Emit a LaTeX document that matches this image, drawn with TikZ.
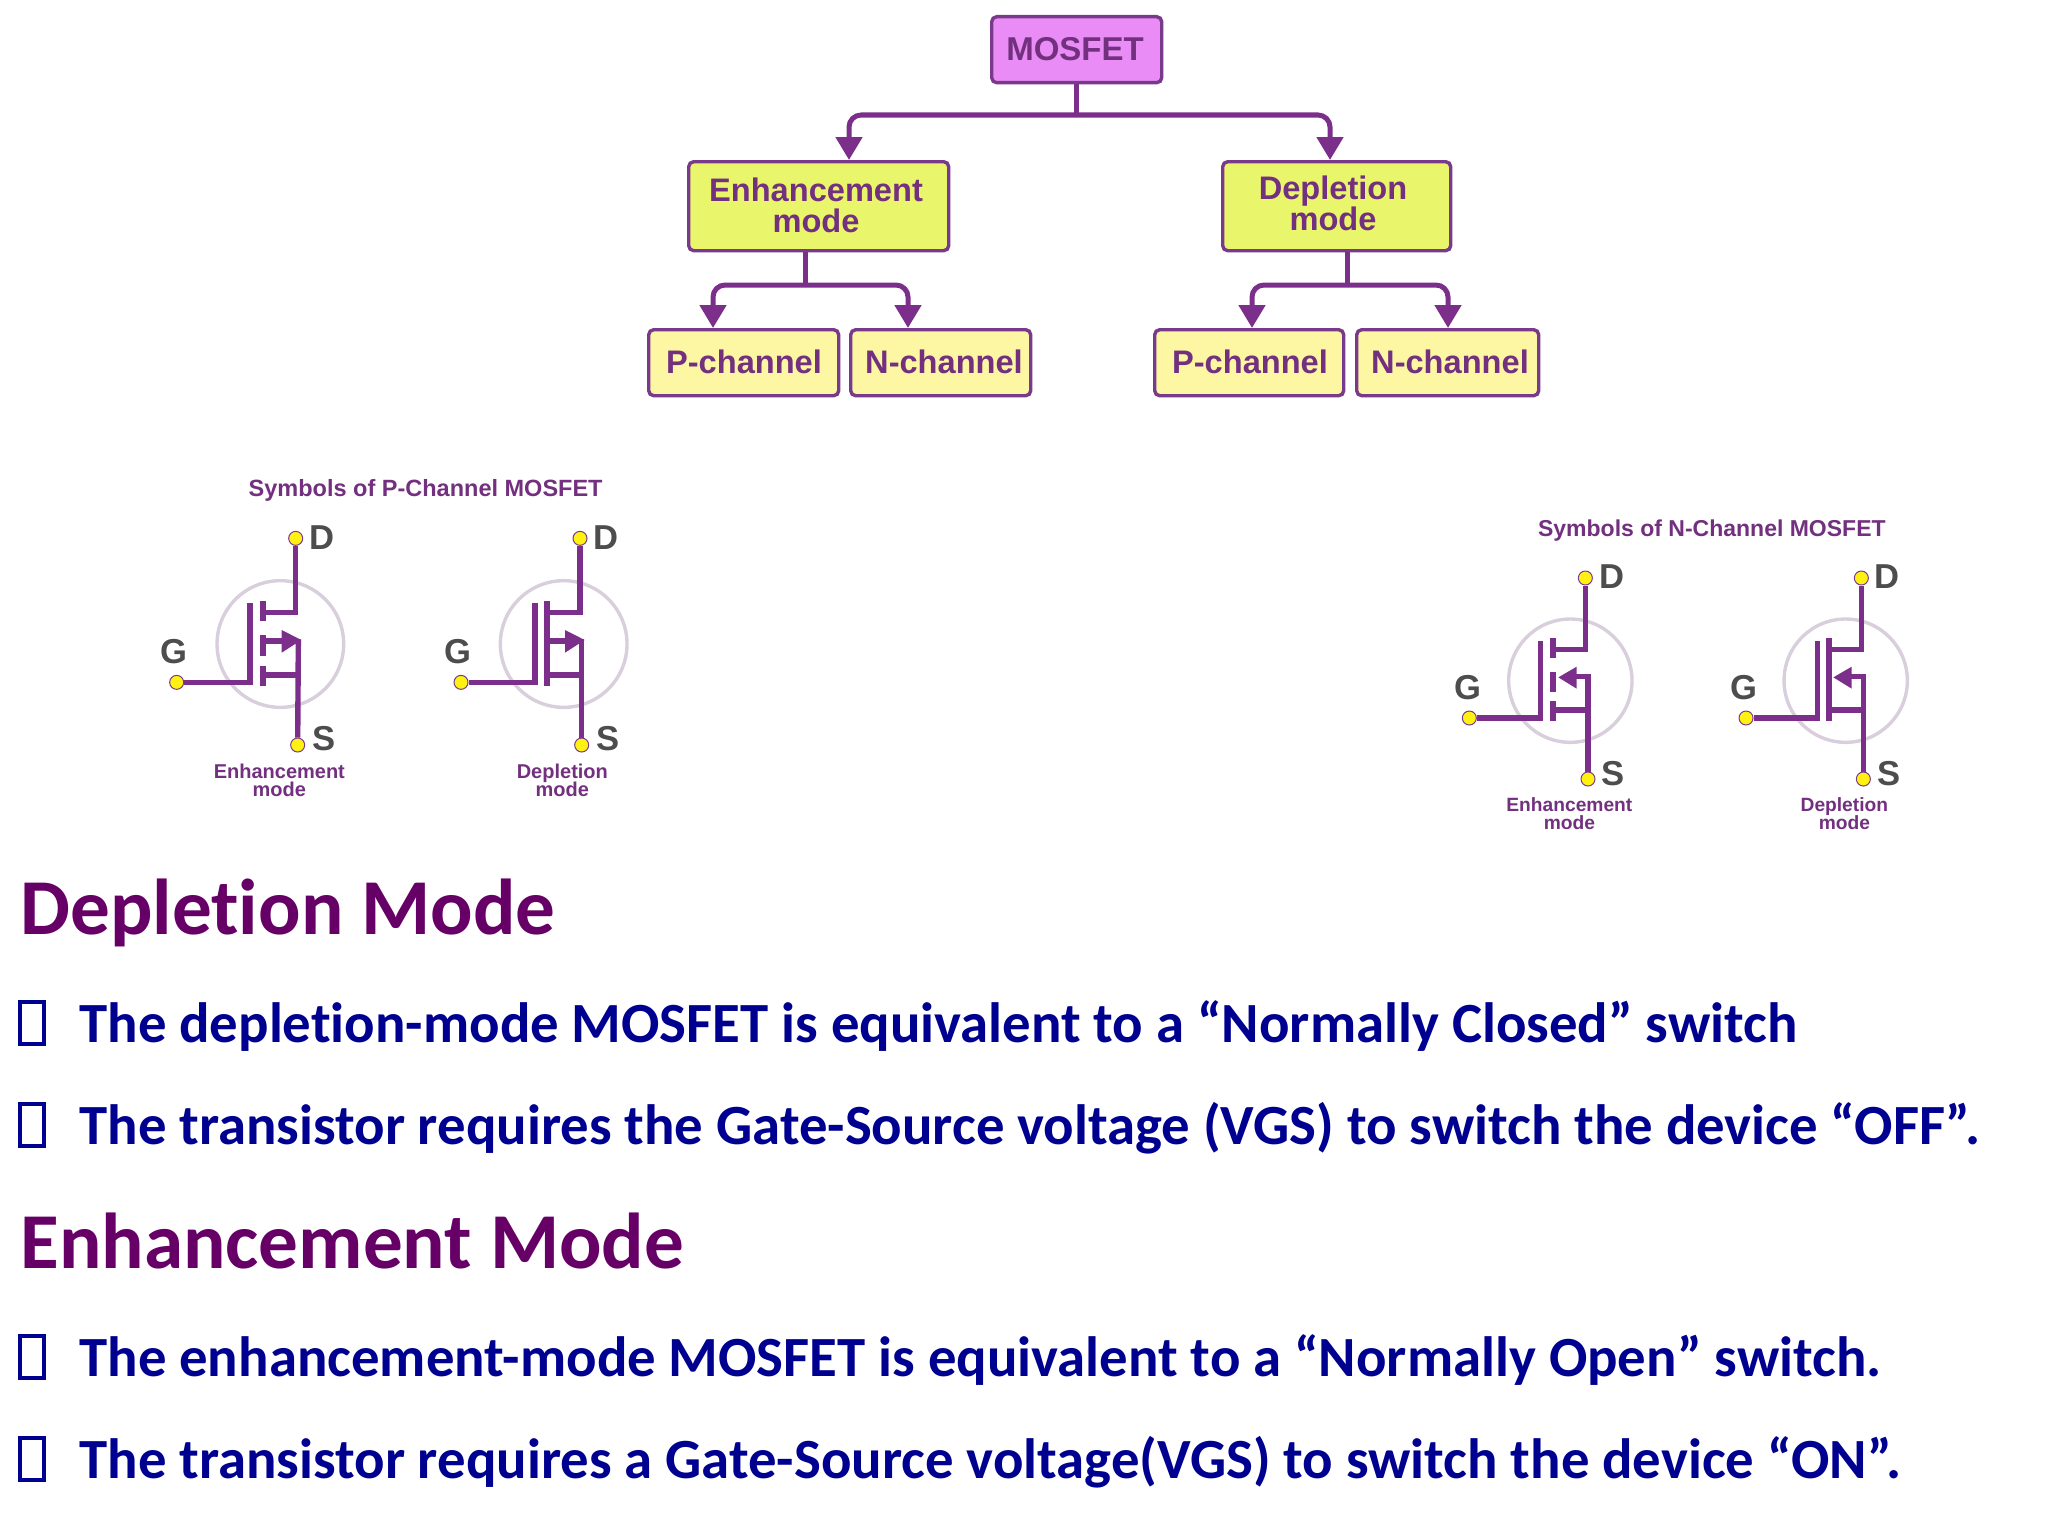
\documentclass[tikz,border=0pt]{standalone}
\usepackage{fontspec}
\setmainfont{Liberation Sans}
\newfontfamily\carl{Carlito}[Ligatures=NoCommon]
\usetikzlibrary{arrows.meta,backgrounds}
\definecolor{pur}{HTML}{7B2F8B}
\definecolor{purtxt}{HTML}{72307F}
\definecolor{bord}{HTML}{7A3A8C}
\definecolor{ring}{HTML}{D9CEDC}
\definecolor{grayt}{HTML}{4D4D4D}
\definecolor{headc}{HTML}{660066}
\definecolor{navyc}{HTML}{000090}
\definecolor{magf}{HTML}{E98CF6}
\definecolor{limef}{HTML}{E9F66C}
\definecolor{creamf}{HTML}{FDF6A3}
\definecolor{dotf}{HTML}{FFF212}
\tikzset{
 box/.style={draw=bord,line width=1.7pt,rounded corners=2.5pt,inner sep=0pt,anchor=north west,xshift=-1pt,yshift=0.5pt},
 boxt/.style={font=\bfseries\fontsize{16.3}{16.3}\selectfont,text=purtxt,anchor=base,inner sep=0pt},
 stem/.style={draw=pur,line width=2.5pt},
 conn/.style={draw=pur,line width=2.5pt,rounded corners=6pt,-{Triangle[length=11.5pt,width=13pt]}},
 wire/.style={draw=pur,line width=2.7pt},
 gateb/.style={draw=pur,line width=3pt},
 ring/.style={draw=ring,line width=1.7pt},
 dot/.style={circle,draw=bord,line width=0.5pt,fill=dotf,minimum size=7pt,inner sep=0pt},
 term/.style={font=\bfseries\fontsize{17.3}{17.3}\selectfont,text=grayt,anchor=base west,inner sep=0pt},
 sym/.style={font=\bfseries\fontsize{10}{10}\selectfont,text=purtxt,anchor=base,inner sep=0pt},
 title/.style={font=\bfseries\fontsize{11.75}{11.75}\selectfont,text=purtxt,anchor=base west,inner sep=0pt},
 head/.style={font=\carl\bfseries\fontsize{39.6}{39.6}\selectfont,text=headc,anchor=base west,inner sep=0pt},
 line/.style={font=\carl\bfseries\fontsize{28.4}{28.4}\selectfont,text=navyc,anchor=base west,inner sep=0pt},
 bul/.style={draw=navyc,line width=2pt,anchor=north west,minimum width=12pt,minimum height=21pt,inner sep=0pt},
 zoomed/.style={x=0.166667pt,y=-0.166667pt}
}
\newcommand{\boxat}[7]{\node[box,fill=#7,minimum width=#4*0.5pt,minimum height=#5*0.5pt] (#1) at (#2,#3) {};}
\begin{document}
\begin{tikzpicture}[x=0.5pt,y=-0.5pt]
\useasboundingbox (0,0) rectangle (2048,1536);
% flow chart
\boxat{mos}{992}{16}{170}{66}{}{magf}
\boxat{enh}{689}{161}{260}{89}{}{limef}
\boxat{dep}{1223}{161}{228}{89}{}{limef}
\boxat{p1}{649}{329}{190}{66}{}{creamf}
\boxat{n1}{851}{329}{180}{66}{}{creamf}
\boxat{p2}{1155}{329}{189}{66}{}{creamf}
\boxat{n2}{1357}{329}{182}{66}{}{creamf}
\node[boxt,font=\bfseries\fontsize{16.5}{16.5}\selectfont] (tm) at (1075,61) {MOSFET};
\node[boxt] (te1) at (816,201) {Enhancement};
\node[boxt] (te2) at (816,232) {mode};
\node[boxt] (td1) at (1333,199) {Depletion};
\node[boxt] (td2) at (1333,230) {mode};
\node[boxt] (tp1) at (744,373) {P-channel};
\node[boxt] (tn1) at (944,373) {N-channel};
\node[boxt] (tp2) at (1250,373) {P-channel};
\node[boxt] (tn2) at (1450,373) {N-channel};
\coordinate (j0) at (1076,115);
\coordinate (j1) at (805,285);
\coordinate (j2) at (1347,285);
\coordinate (a1) at (849,140);
\coordinate (a2) at (1330,140);
\coordinate (a3) at (713,310);
\coordinate (a4) at (908,310);
\coordinate (a5) at (1252,310);
\coordinate (a6) at (1448,310);
\draw[stem] (mos.south -| j0) -- (j0);
\draw[stem] (enh.south -| j1) -- (j1);
\draw[stem] (dep.south -| j2) -- (j2);
\draw[conn] (j0) -| (enh.north -| a1);
\draw[conn] (j0) -| (dep.north -| a2);
\draw[conn] (j1) -| (p1.north -| a3);
\draw[conn] (j1) -| (n1.north -| a4);
\draw[conn] (j2) -| (p2.north -| a5);
\draw[conn] (j2) -| (n2.north -| a6);
% P-channel symbols
\begin{scope}[shift={(140,460)},zoomed]
\node[title] (ptitle) at (325,108) {Symbols of P-Channel MOSFET};
\node[dot] (pd1) at (467,235) {}; \node[dot] (pg1) at (110,667) {}; \node[dot] (ps1) at (473,855) {};
\node[dot] (pd2) at (1320,235) {}; \node[dot] (pg2) at (963,667) {}; \node[dot] (ps2) at (1325,855) {};
\node[term] (pdl1) at (508,268) {D}; \node[term] (pgl1) at (61,610) {G}; \node[term] (psl1) at (516,872) {S};
\node[term] (pdl2) at (1358,268) {D}; \node[term] (pgl2) at (913,610) {G}; \node[term] (psl2) at (1368,872) {S};
\node[sym] (pm1a) at (418,955) {Enhancement}; \node[sym] (pm1b) at (418,1010) {mode};
\node[sym] (pm2a) at (1267,955) {Depletion}; \node[sym] (pm2b) at (1267,1010) {mode};
\begin{pgfonlayer}{background}
\draw[ring] (421,552) circle [radius=190];
\draw[ring] (1271,552) circle [radius=190];
\draw[wire] (pd1) -- (467,458) -- (370,458);
\draw[wire] (pg1) -- (330,667) -- (330,430);
\draw[gateb] (370,422)--(370,483) (370,525)--(370,587) (370,617)--(370,678);
\draw[wire] (370,645) -- (475,645);
\draw[wire] (370,543) -- (440,543);
\draw[wire] (ps1) -- (475,538);
\fill[pur] (425,510) -- (484,540) -- (425,578) -- cycle;
\draw[wire] (pd2) -- (1320,458) -- (1220,458);
\draw[wire] (pg2) -- (1185,667) -- (1185,430);
\draw[gateb] (1220,422) -- (1220,678);
\draw[wire] (1220,645) -- (1325,645);
\draw[wire] (1220,543) -- (1290,543);
\draw[wire] (ps2) -- (1325,538);
\fill[pur] (1275,510) -- (1334,540) -- (1275,578) -- cycle;
\end{pgfonlayer}
\end{scope}
% N-channel symbols
\begin{scope}[shift={(1440,500)},zoomed]
\node[title,font=\bfseries\fontsize{11.5}{11.5}\selectfont] (ntitle) at (293,108) {Symbols of N-Channel MOSFET};
\node[dot] (nd1) at (436,234) {}; \node[dot] (ng1) at (88,654) {}; \node[dot] (ns1) at (444,837) {};
\node[dot] (nd2) at (1264,234) {}; \node[dot] (ng2) at (918,654) {}; \node[dot] (ns2) at (1270,837) {};
\node[term] (ndl1) at (476,265) {D}; \node[term] (ngl1) at (43,597) {G}; \node[term] (nsl1) at (483,855) {S};
\node[term] (ndl2) at (1301,265) {D}; \node[term] (ngl2) at (871,597) {G}; \node[term] (nsl2) at (1311,855) {S};
\node[sym,font=\bfseries\fontsize{9.6}{9.6}\selectfont] (nm1a) at (388,933) {Enhancement}; \node[sym,font=\bfseries\fontsize{9.6}{9.6}\selectfont] (nm1b) at (388,987) {mode};
\node[sym,font=\bfseries\fontsize{9.6}{9.6}\selectfont] (nm2a) at (1213,933) {Depletion}; \node[sym,font=\bfseries\fontsize{9.6}{9.6}\selectfont] (nm2b) at (1213,987) {mode};
\begin{pgfonlayer}{background}
\draw[ring] (391,542) circle [radius=185];
\draw[ring] (1217,542) circle [radius=185];
\draw[wire] (nd1) -- (436,448) -- (340,448);
\draw[wire] (ng1) -- (302,654) -- (302,423);
\draw[gateb] (340,415)--(340,475) (340,515)--(340,575) (340,603)--(340,663);
\draw[wire] (340,630) -- (444,630);
\draw[wire] (ns1) -- (444,530) -- (395,530);
\fill[pur] (355,532) -- (410,500) -- (410,566) -- cycle;
\draw[wire] (nd2) -- (1264,448) -- (1167,448);
\draw[wire] (ng2) -- (1132,654) -- (1132,423);
\draw[gateb] (1167,415) -- (1167,663);
\draw[wire] (1167,630) -- (1270,630);
\draw[wire] (ns2) -- (1270,530) -- (1220,530);
\fill[pur] (1180,532) -- (1235,500) -- (1235,566) -- cycle;
\end{pgfonlayer}
\end{scope}
% text
\node[head] (h1) at (20,934) {Depletion Mode};
\node[head] (h2) at (20,1268) {Enhancement Mode};
\node[bul] (b1) at (18,1000) {};
\node[bul] (b2) at (18,1102) {};
\node[bul] (b3) at (18,1334) {};
\node[bul] (b4) at (18,1436) {};
\node[line] (l1) at (79,1042) {The depletion-mode MOSFET is equivalent to a “Normally Closed” switch};
\node[line] (l2) at (79,1144) {The transistor requires the Gate-Source voltage (VGS) to switch the device “OFF”.};
\node[line] (l3) at (79,1376) {The enhancement-mode MOSFET is equivalent to a “Normally Open” switch.};
\node[line] (l4) at (79,1478) {The transistor requires a Gate-Source voltage(VGS) to switch the device “ON”.};
\end{tikzpicture}
\end{document}
